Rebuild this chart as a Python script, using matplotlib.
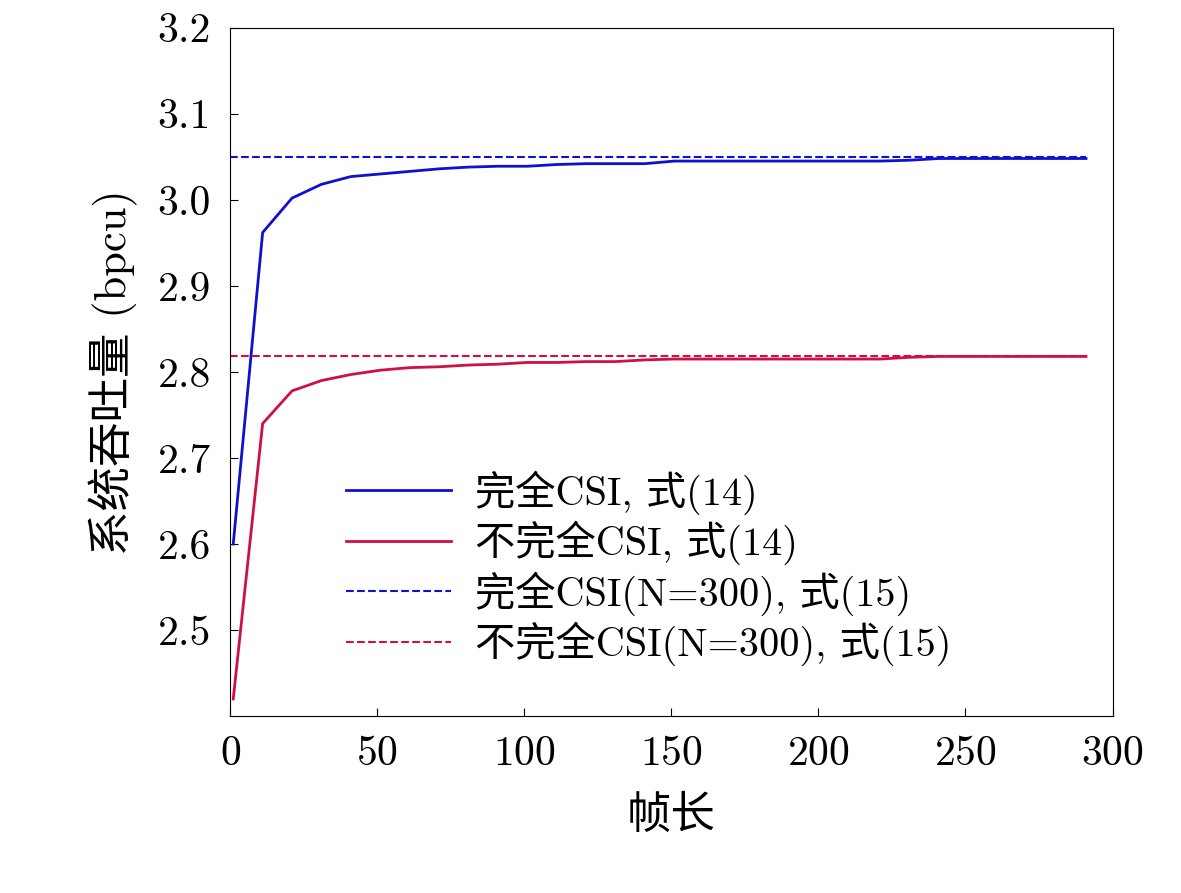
import matplotlib
matplotlib.use("Agg")
import matplotlib.pyplot as plt

plt.rcParams['font.family'] = ['cmr10', 'Noto Sans CJK SC']
plt.rcParams['mathtext.fontset'] = 'cm'
plt.rcParams['axes.formatter.use_mathtext'] = True

frames = [1, 11, 21, 31, 41, 51, 61, 71, 81, 91, 101, 111, 121, 131, 141, 151,
          161, 171, 181, 191, 201, 211, 221, 231, 241, 251, 261, 271, 281, 291]
perfect = [2.600, 2.962, 3.002, 3.018, 3.027, 3.030, 3.033, 3.036, 3.038, 3.039,
           3.039, 3.041, 3.042, 3.042, 3.042, 3.045, 3.045, 3.045, 3.045, 3.045,
           3.045, 3.045, 3.045, 3.046, 3.048, 3.048, 3.048, 3.048, 3.048, 3.048]
imperfect = [2.420, 2.740, 2.778, 2.790, 2.797, 2.802, 2.805, 2.806, 2.808, 2.809,
             2.811, 2.811, 2.812, 2.812, 2.814, 2.815, 2.815, 2.815, 2.815, 2.815,
             2.815, 2.815, 2.815, 2.817, 2.818, 2.818, 2.818, 2.818, 2.818, 2.818]
perfect_bound = 3.050
imperfect_bound = 2.818

fig = plt.figure(figsize=(11.81, 8.93), dpi=100)
ax = fig.add_axes([0.195, 0.198, 0.747, 0.771])

ax.plot(frames, perfect, color='#1010d0', lw=2, label='完全CSI, 式(14)')
ax.plot(frames, imperfect, color='#d01040', lw=2, label='不完全CSI, 式(14)')
ax.plot([0, 291], [perfect_bound] * 2, '--', color='#1010d0', lw=1.5,
        label='完全CSI(N=300), 式(15)')
ax.plot([0, 291], [imperfect_bound] * 2, '--', color='#d01040', lw=1.5,
        label='不完全CSI(N=300), 式(15)')

ax.set_xlim(0, 300)
ax.set_ylim(2.4, 3.2)
ax.set_xticks([0, 50, 100, 150, 200, 250, 300])
ax.set_yticks([2.5, 2.6, 2.7, 2.8, 2.9, 3.0, 3.1, 3.2])
ax.set_yticklabels(['2.5', '2.6', '2.7', '2.8', '2.9', '3.0', '3.1', '3.2'])
ax.tick_params(direction='in', labelsize=30, pad=14, length=6)
ax.set_xlabel('帧长', fontsize=32, labelpad=16)
ax.set_ylabel('系统吞吐量 (bpcu)', fontsize=32, labelpad=14)
ax.legend(loc='lower left', bbox_to_anchor=(0.09, 0.02), frameon=False,
          fontsize=29, handlelength=2.6, labelspacing=0.15, handletextpad=0.6)

fig.savefig('out.png')
